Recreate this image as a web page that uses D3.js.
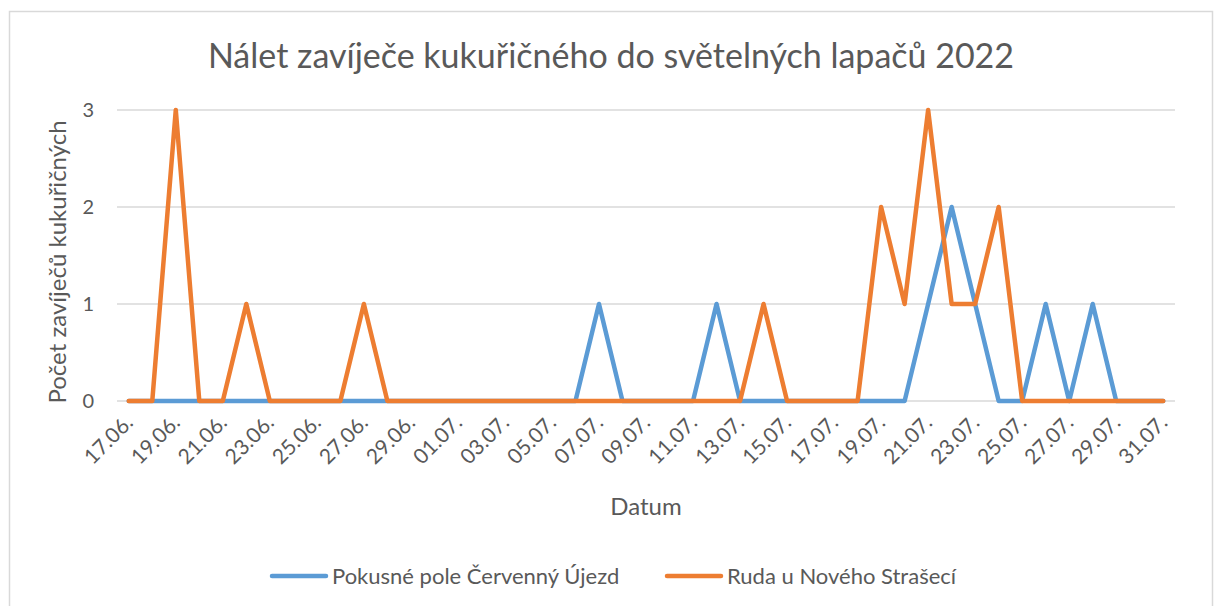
<!DOCTYPE html>
<html>
<head>
<meta charset="utf-8">
<script src="https://cdn.jsdelivr.net/npm/d3@7"></script>
<style>
  body { margin: 0; background: #fff; }
  text { font-family: Lato, 'Open Sans', sans-serif; fill: #595959; }
</style>
</head>
<body>
<div id="chart-container"></div>
<script>
// data
const dates = [
  '17.06.', '18.06.', '19.06.', '20.06.', '21.06.', '22.06.', '23.06.', '24.06.', '25.06.', '26.06.',
  '27.06.', '28.06.', '29.06.', '30.06.', '01.07.', '02.07.', '03.07.', '04.07.', '05.07.', '06.07.',
  '07.07.', '08.07.', '09.07.', '10.07.', '11.07.', '12.07.', '13.07.', '14.07.', '15.07.', '16.07.',
  '17.07.', '18.07.', '19.07.', '20.07.', '21.07.', '22.07.', '23.07.', '24.07.', '25.07.', '26.07.',
  '27.07.', '28.07.', '29.07.', '30.07.', '31.07.'
]
const cervenyUjezd = [
  0, 0, 0, 0, 0, 0, 0, 0, 0, 0,
  0, 0, 0, 0, 0, 0, 0, 0, 0, 0,
  1, 0, 0, 0, 0, 1, 0, 0, 0, 0,
  0, 0, 0, 0, 1, 2, 1, 0, 0, 1,
  0, 1, 0, 0, 0
]
const rudaStraseci = [
  0, 0, 3, 0, 0, 1, 0, 0, 0, 0,
  1, 0, 0, 0, 0, 0, 0, 0, 0, 0,
  0, 0, 0, 0, 0, 0, 0, 1, 0, 0,
  0, 0, 2, 1, 3, 1, 1, 2, 0, 0,
  0, 0, 0, 0, 0
]
const seriesNames = ['Pokusné pole Červenný Újezd', 'Ruda u Nového Strašecí']
const seriesColors = ['#5B9BD5', '#ED7D31']
const yTicks = [0, 1, 2, 3]

// constants
const width = 1218
const height = 606
const plot = {left: 117, right: 1175, top: 110, bottom: 401}

const svg = d3.select('#chart-container')
  .append('svg')
  .attr('width', width)
  .attr('height', height)

// chart frame
svg.append('rect')
  .attr('x', 9.5).attr('y', 11.5)
  .attr('width', 1203).attr('height', 600)
  .attr('fill', '#fff')
  .attr('stroke', '#d9d9d9')
  .attr('stroke-width', 1.5)

const xScale = d3.scalePoint()
  .domain(dates)
  .range([plot.left, plot.right])
  .padding(0.5)

const yScale = d3.scaleLinear()
  .domain([0, 3])
  .range([plot.bottom, plot.top])

// gridlines
svg.append('g')
  .selectAll('line')
  .data(yTicks).enter()
  .append('line')
  .attr('x1', plot.left)
  .attr('x2', plot.right)
  .attr('y1', d => yScale(d))
  .attr('y2', d => yScale(d))
  .attr('stroke', '#d9d9d9')
  .attr('stroke-width', 1.5)

// y axis
const yAxis = d3.axisLeft(yScale).tickValues(yTicks).tickFormat(d3.format('d')).tickSize(0).tickPadding(23)
const yAxisG = svg.append('g')
  .attr('transform', `translate(${plot.left}, 0)`)
  .call(yAxis)
yAxisG.select('.domain').remove()
yAxisG.selectAll('text')
  .attr('font-size', '20px')
  .attr('fill', '#595959')
  .style('font-family', 'Lato, sans-serif')

// x axis, every second date
const xAxis = d3.axisBottom(xScale)
  .tickValues(dates.filter((d, i) => i % 2 === 0))
  .tickSize(0)
const xAxisG = svg.append('g')
  .attr('transform', `translate(0, ${plot.bottom})`)
  .call(xAxis)
xAxisG.select('.domain').remove()
xAxisG.selectAll('text')
  .attr('font-size', '21px')
  .attr('fill', '#595959')
  .style('font-family', 'Lato, sans-serif')
  .attr('text-anchor', 'end')
  .attr('dy', '0')
  .attr('y', 0)
  .attr('transform', 'translate(5, 23) rotate(-45)')

// lines
const line = d3.line()
  .x((d, i) => xScale(dates[i]))
  .y(d => yScale(d))

const allSeries = [cervenyUjezd, rudaStraseci]
svg.append('g')
  .selectAll('path')
  .data(allSeries).enter()
  .append('path')
  .attr('d', d => line(d))
  .attr('fill', 'none')
  .attr('stroke', (d, i) => seriesColors[i])
  .attr('stroke-width', 4.5)
  .attr('stroke-linejoin', 'round')
  .attr('stroke-linecap', 'round')

// title + axis titles
svg.append('text')
  .attr('x', 611).attr('y', 68)
  .attr('text-anchor', 'middle')
  .attr('font-size', '34px')
  .text('Nálet zavíječe kukuřičného do světelných lapačů 2022')

svg.append('text')
  .attr('transform', 'translate(66, 262) rotate(-90)')
  .attr('text-anchor', 'middle')
  .attr('font-size', '24px')
  .text('Počet zavíječů kukuřičných')

svg.append('text')
  .attr('x', 646).attr('y', 515)
  .attr('text-anchor', 'middle')
  .attr('font-size', '24px')
  .text('Datum')

// legend
const legendX = [272, 667]
const legend = svg.append('g')
  .selectAll('g')
  .data(seriesNames).enter()
  .append('g')
  .attr('transform', (d, i) => `translate(${legendX[i]}, 576)`)
legend.append('line')
  .attr('x1', 0).attr('x2', 54)
  .attr('stroke', (d, i) => seriesColors[i])
  .attr('stroke-width', 4.5)
  .attr('stroke-linecap', 'round')
legend.append('text')
  .attr('x', 60).attr('y', 8)
  .attr('font-size', '22px')
  .text(d => d)
</script>
</body>
</html>
